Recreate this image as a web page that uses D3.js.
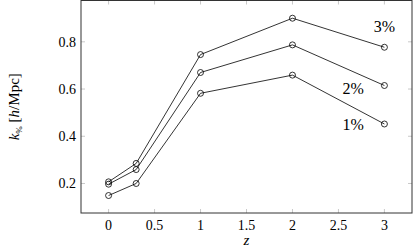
<!DOCTYPE html>
<html lang="en">
<head>
<meta charset="UTF-8">
<title>k% vs z</title>
<script src="https://d3js.org/d3.v7.min.js"></script>
<style>
    body { margin: 0; background: #fff; }
    svg text { font-family: "Liberation Serif", serif; fill: #000; }
</style>
</head>
<body>
<div id="chart"></div>
<script>
    // Data
    const redshifts = [0, 0.3, 1, 2, 3];
    const series3 = [0.207, 0.285, 0.746, 0.900, 0.777];
    const series2 = [0.197, 0.259, 0.670, 0.787, 0.615];
    const series1 = [0.149, 0.200, 0.582, 0.659, 0.452];
    const seriesNames = ["3%", "2%", "1%"];
    const xTicks = [0, 0.5, 1, 1.5, 2, 2.5, 3];
    const yTicks = [0.2, 0.4, 0.6, 0.8];

    const W = 413, H = 250;
    const margin = { top: 0.5, right: 1, bottom: 37, left: 81 };
    const width = W - margin.left - margin.right;
    const height = H - margin.top - margin.bottom;

    const svg = d3.select("#chart").append("svg")
        .attr("width", W).attr("height", H);
    const g = svg.append("g")
        .attr("transform", `translate(${margin.left},${margin.top})`);

    const x = d3.scaleLinear().domain([-0.3, 3.3]).range([0, width]);
    const y = d3.scaleLinear().domain([0.075, 0.975]).range([height, 0]);

    // ticks (inside, on all four sides)
    const tickLen = 4;
    xTicks.forEach(t => {
        g.append("line").attr("x1", x(t)).attr("x2", x(t))
            .attr("y1", height).attr("y2", height - tickLen)
            .attr("stroke", "#bbb").attr("stroke-width", 0.8);
        g.append("line").attr("x1", x(t)).attr("x2", x(t))
            .attr("y1", 0).attr("y2", tickLen)
            .attr("stroke", "#bbb").attr("stroke-width", 0.8);
        g.append("text").attr("x", x(t)).attr("y", height + 17)
            .attr("text-anchor", "middle").style("font-size", "14px")
            .text(t);
    });
    yTicks.forEach(t => {
        g.append("line").attr("x1", 0).attr("x2", tickLen)
            .attr("y1", y(t)).attr("y2", y(t))
            .attr("stroke", "#bbb").attr("stroke-width", 0.8);
        g.append("line").attr("x1", width).attr("x2", width - tickLen)
            .attr("y1", y(t)).attr("y2", y(t))
            .attr("stroke", "#bbb").attr("stroke-width", 0.8);
        g.append("text").attr("x", -5).attr("y", y(t)).attr("dy", "0.35em")
            .attr("text-anchor", "end").style("font-size", "14px")
            .text(t.toFixed(1));
    });

    // frame
    g.append("rect").attr("x", 0).attr("y", 0)
        .attr("width", width).attr("height", height)
        .attr("fill", "none").attr("stroke", "#333").attr("stroke-width", 1);

    // lines + markers
    const allSeries = [series3, series2, series1];
    const line = d3.line().x((d, i) => x(redshifts[i])).y(d => y(d));
    allSeries.forEach(s => {
        g.append("path").datum(s).attr("d", line)
            .attr("fill", "none").attr("stroke", "#000").attr("stroke-width", 0.8);
        g.selectAll(null).data(s).enter().append("circle")
            .attr("cx", (d, i) => x(redshifts[i])).attr("cy", d => y(d))
            .attr("r", 3).attr("fill", "none")
            .attr("stroke", "#000").attr("stroke-width", 0.8);
    });

    // series labels
    const labelPos = [[3, 0.84], [2.66, 0.58], [2.66, 0.425]];
    seriesNames.forEach((n, i) => {
        g.append("text").attr("x", x(labelPos[i][0])).attr("y", y(labelPos[i][1]))
            .attr("text-anchor", "middle").style("font-size", "16px")
            .text(n);
    });

    // axis labels
    svg.append("text").attr("x", margin.left + x(1.5)).attr("y", H - 5)
        .attr("text-anchor", "middle").style("font-size", "15px")
        .style("font-style", "italic").text("z");

    const yl = svg.append("text")
        .attr("transform", `translate(19,${margin.top + height / 2}) rotate(-90)`)
        .attr("text-anchor", "middle").style("font-size", "15px");
    yl.append("tspan").style("font-style", "italic").text("k");
    yl.append("tspan").attr("dy", 3).style("font-size", "9px").text("%");
    yl.append("tspan").attr("dy", -3).text(" [");
    yl.append("tspan").style("font-style", "italic").text("h");
    yl.append("tspan").text("/Mpc]");
</script>
</body>
</html>
